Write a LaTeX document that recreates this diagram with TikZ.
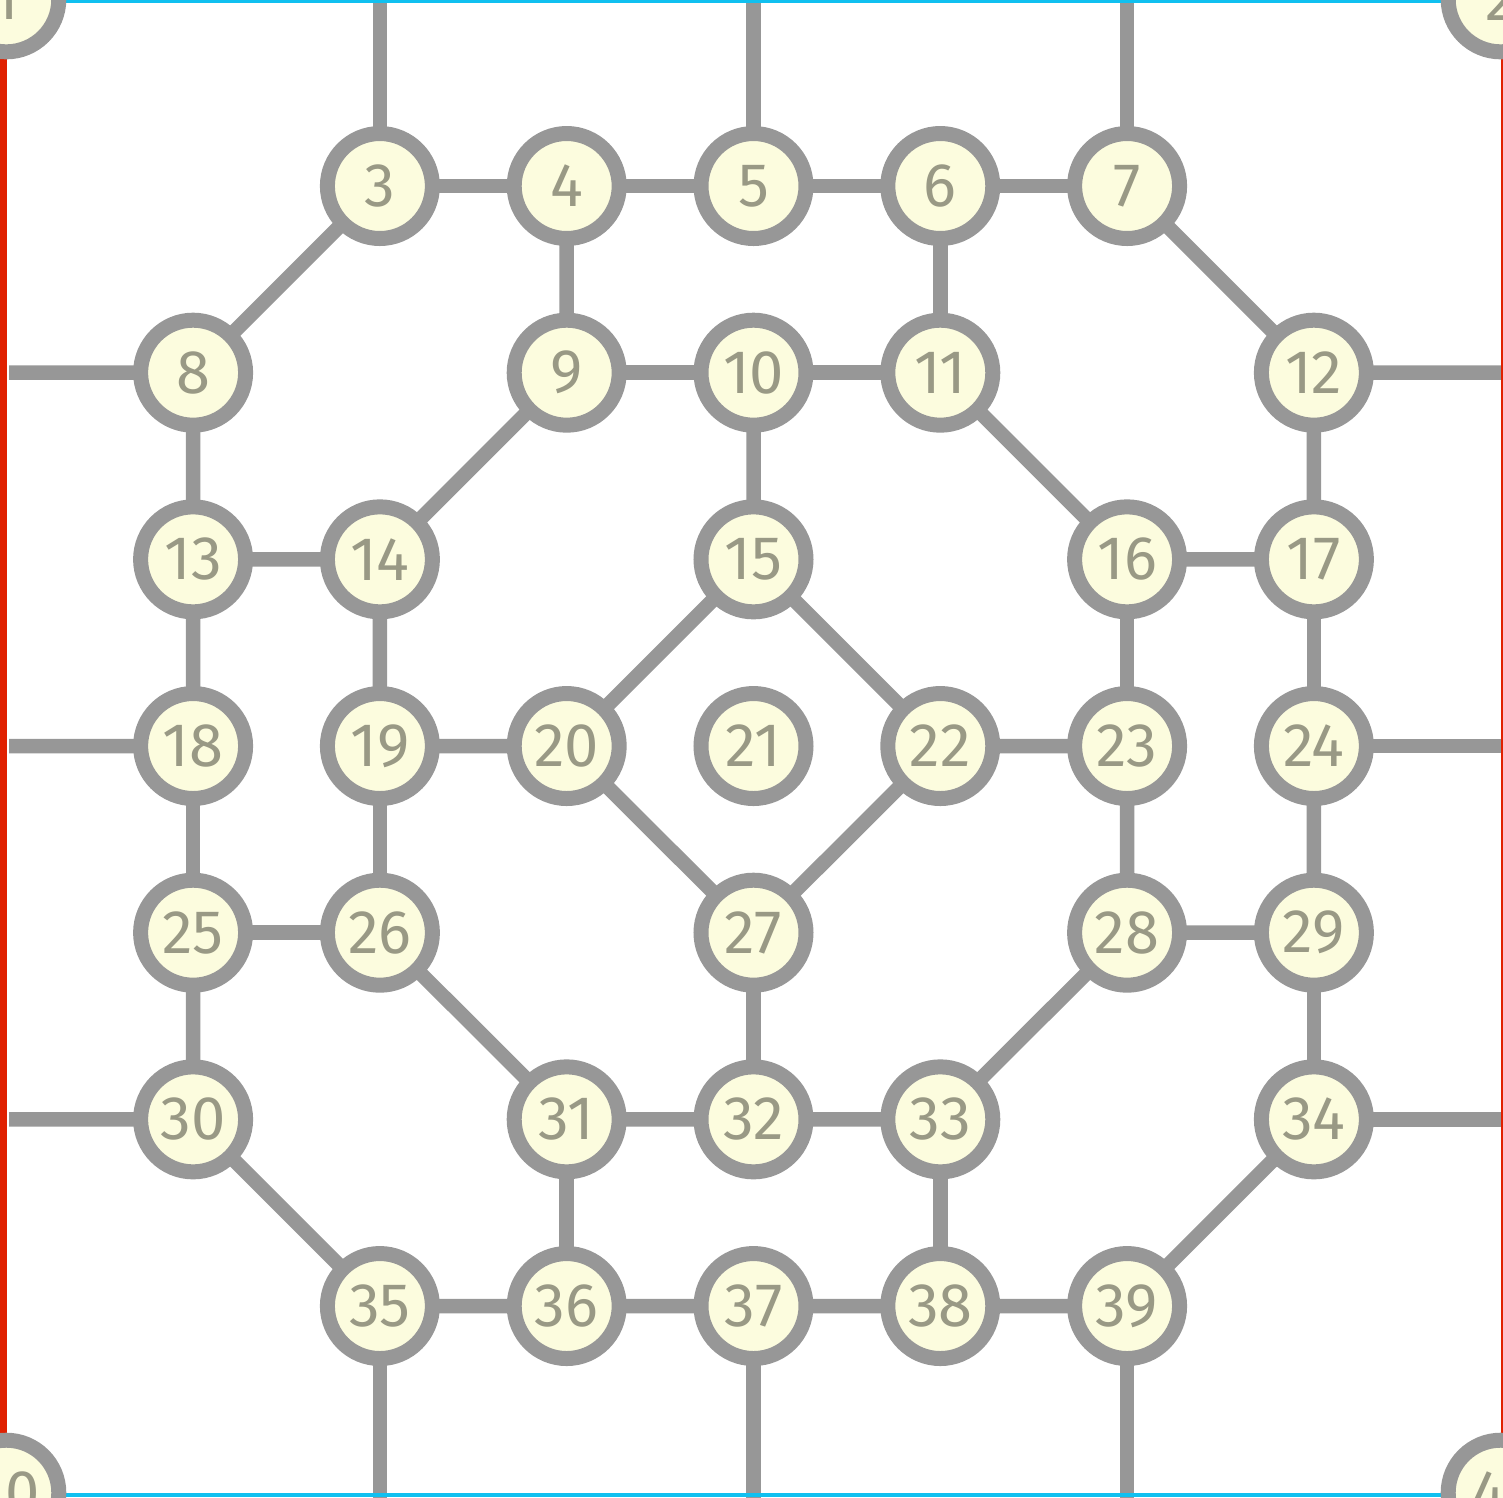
\documentclass[tikz,border=0pt]{standalone}
\usepackage{fontspec}
\setmainfont{Fira Sans}
\usetikzlibrary{backgrounds}
\definecolor{nodefill}{HTML}{FCFCDE}
\definecolor{edgegray}{HTML}{979797}
\definecolor{labelgray}{HTML}{999985}
\definecolor{frameblue}{HTML}{10C0F0}
\definecolor{framered}{HTML}{E02000}
\tikzset{
  vtx/.style={circle, draw=edgegray, line width=1.5mm, fill=nodefill, minimum size=1.05cm, inner sep=0pt, text=labelgray, font=\fontsize{17.5}{20}\selectfont},
  link/.style={draw=edgegray, line width=1.45mm}
}
\begin{document}
\begin{tikzpicture}
\useasboundingbox (0,0) rectangle (15.03,-14.97);
\draw[framered, line width=0.7mm] (0.035,0) -- (0.035,-14.97);
\draw[framered, line width=0.25mm] (15.018,0) -- (15.018,-14.97);
\draw[frameblue, line width=0.3mm] (0,-0.015) -- (15.03,-0.015);
\draw[frameblue, line width=0.35mm] (0,-14.952) -- (15.03,-14.952);
\begin{scope}[shift={(1.931,-1.860)}, x=1.868cm, y=-1.8667cm]
% corners
\node[vtx] (n1) at (-1,-1) {1};
\node[vtx] (n2) at (7,-1) {2};
\node[vtx] (n40) at (-1,7) {40};
\node[vtx] (n41) at (7,7) {41};
% rows
\node[vtx] (n3) at (1,0) {3};
\node[vtx] (n4) at (2,0) {4};
\node[vtx] (n5) at (3,0) {5};
\node[vtx] (n6) at (4,0) {6};
\node[vtx] (n7) at (5,0) {7};
\node[vtx] (n8) at (0,1) {8};
\node[vtx] (n9) at (2,1) {9};
\node[vtx] (n10) at (3,1) {10};
\node[vtx] (n11) at (4,1) {11};
\node[vtx] (n12) at (6,1) {12};
\node[vtx] (n13) at (0,2) {13};
\node[vtx] (n14) at (1,2) {14};
\node[vtx] (n15) at (3,2) {15};
\node[vtx] (n16) at (5,2) {16};
\node[vtx] (n17) at (6,2) {17};
\node[vtx] (n18) at (0,3) {18};
\node[vtx] (n19) at (1,3) {19};
\node[vtx] (n20) at (2,3) {20};
\node[vtx] (n21) at (3,3) {21};
\node[vtx] (n22) at (4,3) {22};
\node[vtx] (n23) at (5,3) {23};
\node[vtx] (n24) at (6,3) {24};
\node[vtx] (n25) at (0,4) {25};
\node[vtx] (n26) at (1,4) {26};
\node[vtx] (n27) at (3,4) {27};
\node[vtx] (n28) at (5,4) {28};
\node[vtx] (n29) at (6,4) {29};
\node[vtx] (n30) at (0,5) {30};
\node[vtx] (n31) at (2,5) {31};
\node[vtx] (n32) at (3,5) {32};
\node[vtx] (n33) at (4,5) {33};
\node[vtx] (n34) at (6,5) {34};
\node[vtx] (n35) at (1,6) {35};
\node[vtx] (n36) at (2,6) {36};
\node[vtx] (n37) at (3,6) {37};
\node[vtx] (n38) at (4,6) {38};
\node[vtx] (n39) at (5,6) {39};
% free ends
\coordinate (t3) at (1,-1.01); \coordinate (t5) at (3,-1.01); \coordinate (t7) at (5,-1.01);
\coordinate (b35) at (1,7.03); \coordinate (b37) at (3,7.03); \coordinate (b39) at (5,7.03);
\coordinate (l8) at (-0.985,1); \coordinate (l18) at (-0.985,3); \coordinate (l30) at (-0.985,5);
\coordinate (r12) at (7.01,1); \coordinate (r24) at (7.01,3); \coordinate (r34) at (7.01,5);
\begin{scope}[on background layer]
\draw[link] (n3.center) -- (n4.center) -- (n5.center) -- (n6.center) -- (n7.center);
\draw[link] (t3) -- (n3.center) (t5) -- (n5.center) (t7) -- (n7.center);
\draw[link] (l8) -- (n8.center) (n3.center) -- (n8.center) (n4.center) -- (n9.center);
\draw[link] (n9.center) -- (n10.center) -- (n11.center) (n6.center) -- (n11.center);
\draw[link] (n7.center) -- (n12.center) -- (r12);
\draw[link] (n8.center) -- (n13.center) -- (n14.center) -- (n9.center);
\draw[link] (n10.center) -- (n15.center) (n11.center) -- (n16.center) -- (n17.center) -- (n12.center);
\draw[link] (l18) -- (n18.center) -- (n13.center) (n14.center) -- (n19.center) -- (n20.center) -- (n15.center) -- (n22.center) -- (n23.center);
\draw[link] (n16.center) -- (n23.center) (n17.center) -- (n24.center) -- (r24);
\draw[link] (n18.center) -- (n25.center) -- (n26.center) -- (n19.center);
\draw[link] (n20.center) -- (n27.center) -- (n22.center) (n23.center) -- (n28.center) -- (n29.center) -- (n24.center);
\draw[link] (l30) -- (n30.center) -- (n25.center) (n26.center) -- (n31.center) -- (n32.center) -- (n33.center) -- (n28.center);
\draw[link] (n27.center) -- (n32.center) (n29.center) -- (n34.center) -- (r34);
\draw[link] (n30.center) -- (n35.center) -- (n36.center) -- (n37.center) -- (n38.center) -- (n39.center) -- (n34.center);
\draw[link] (n31.center) -- (n36.center) (n33.center) -- (n38.center);
\draw[link] (n35.center) -- (b35) (n37.center) -- (b37) (n39.center) -- (b39);
\end{scope}
\end{scope}
\end{tikzpicture}
\end{document}
